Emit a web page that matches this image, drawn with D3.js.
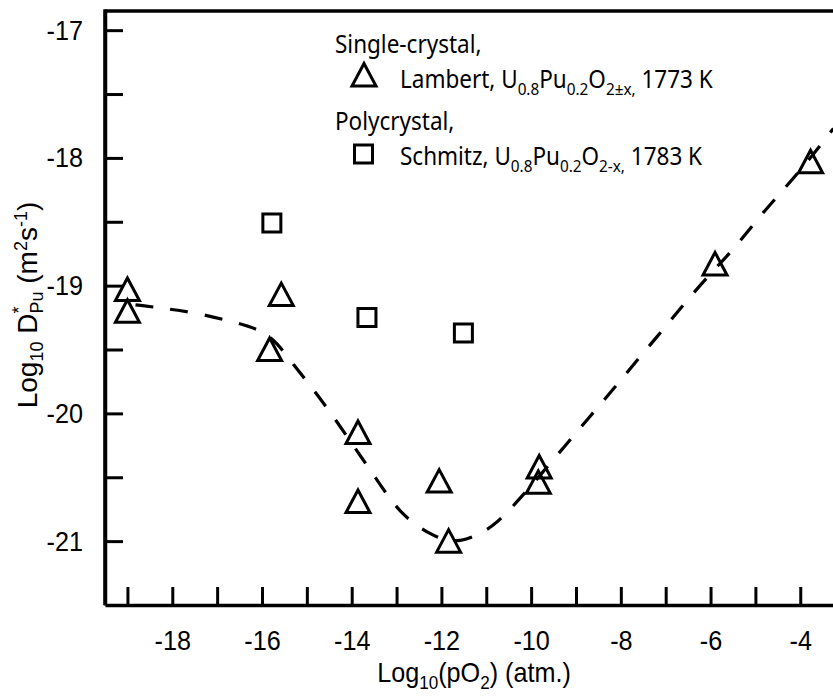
<!DOCTYPE html>
<html>
<head>
<meta charset="utf-8">
<script src="https://cdn.jsdelivr.net/npm/d3@7"></script>
<style>
  html, body { margin: 0; padding: 0; background: #fff; }
  svg { display: block; }
  .num { font-family: "Liberation Sans", Arial, sans-serif; font-size: 28px; fill: #000; }
  .leg { font-family: "Noto Sans", "Open Sans", sans-serif; font-size: 25px; fill: #000; }
  .sx { transform-box: fill-box; transform: scaleX(0.9); }
</style>
</head>
<body>
<svg id="chart" width="833" height="696"></svg>
<script>
// Lambert, single crystal U0.8Pu0.2O2±x at 1773 K
const lambertLogPO2 = [-19.0, -19.0, -15.57, -15.83, -13.86, -13.86, -12.05, -11.84, -9.82, -9.84, -5.90, -3.77];
const lambertLogD   = [-19.03, -19.20, -19.07, -19.50, -20.15, -20.69, -20.53, -21.00, -20.42, -20.54, -18.83, -18.03];

// Schmitz, polycrystal U0.8Pu0.2O2-x at 1783 K
const schmitzLogPO2 = [-15.78, -13.66, -11.51];
const schmitzLogD   = [-18.51, -19.25, -19.37];

// dashed trend line through the single-crystal data
const trendLogPO2 = [-18.82, -18.13, -17.35, -16.57, -15.99, -15.66, -15.34, -14.79, -14.32, -13.85, -13.38, -12.89, -12.20, -11.84, -11.49, -10.86, -10.28, -9.79, -9.21, -8.68, -8.14, -7.63, -7.07, -6.54, -5.91, -5.47, -4.91, -4.38, -3.86, -3.26];
const trendLogD   = [-19.15, -19.18, -19.22, -19.29, -19.35, -19.45, -19.60, -19.84, -20.07, -20.31, -20.55, -20.80, -20.96, -21.00, -21.00, -20.90, -20.68, -20.48, -20.24, -20.02, -19.80, -19.58, -19.35, -19.12, -18.87, -18.71, -18.46, -18.25, -18.04, -17.77];

// axis ticks
const xTicks = [-19, -18, -17, -16, -15, -14, -13, -12, -11, -10, -9, -8, -7, -6, -5, -4];
const xTickLabels = [-18, -16, -14, -12, -10, -8, -6, -4];
const yTicks = [-17, -17.5, -18, -18.5, -19, -19.5, -20, -20.5, -21];
const yTickLabels = [-17, -18, -19, -20, -21];

const svg = d3.select("#chart");
const plotLeft = 105, plotRight = 833, plotTop = 11, plotBottom = 605;

const x = d3.scaleLinear().domain([-19.5, -3.27]).range([plotLeft, plotRight]);
const y = d3.scaleLinear().domain([-21.5, -16.85]).range([plotBottom, plotTop]);

// frame: top edge
svg.append("line")
  .attr("x1", plotLeft).attr("x2", plotRight).attr("y1", plotTop).attr("y2", plotTop)
  .attr("stroke", "#000").attr("stroke-width", 3.5);

// bottom axis, ticks pointing into the plot
const xAxis = svg.append("g")
  .attr("transform", `translate(0,${plotBottom})`)
  .call(d3.axisBottom(x).tickValues(xTicks).tickSize(-18).tickSizeOuter(0).tickPadding(25)
    .tickFormat(d => xTickLabels.includes(d) ? String(d) : ""));

// left axis, ticks pointing into the plot
const yAxis = svg.append("g")
  .attr("transform", `translate(${plotLeft},0)`)
  .call(d3.axisLeft(y).tickValues(yTicks).tickSize(-18).tickSizeOuter(0).tickPadding(22)
    .tickFormat(d => yTickLabels.includes(d) ? String(d) : ""));

[xAxis, yAxis].forEach(g => {
  g.attr("font-size", null).attr("font-family", null);
  g.select(".domain").attr("stroke", "#000").attr("stroke-width", 3.5);
  g.selectAll(".tick line").attr("stroke", "#000").attr("stroke-width", 3);
  g.selectAll(".tick text").attr("class", "num sx");
});
xAxis.selectAll(".tick text").style("transform-origin", "center");
yAxis.selectAll(".tick text").style("transform-origin", "right center");

// extend the left axis line up to the top edge
svg.append("line")
  .attr("x1", plotLeft).attr("x2", plotLeft).attr("y1", plotTop - 1.75).attr("y2", plotBottom)
  .attr("stroke", "#000").attr("stroke-width", 3.5);

// dashed trend line
const line = d3.line().x(d => x(d[0])).y(d => y(d[1])).curve(d3.curveBasis);
svg.append("path")
  .datum(d3.zip(trendLogPO2, trendLogD))
  .attr("d", line)
  .attr("fill", "none").attr("stroke", "#000").attr("stroke-width", 3.2)
  .attr("stroke-dasharray", "18,17");

// marker shapes
const triPath = "M0,-11.5L12,11L-12,11Z";
const sqPath = "M-9,-9H9V9H-9Z";

svg.append("g").selectAll("path")
  .data(d3.zip(lambertLogPO2, lambertLogD))
  .join("path")
  .attr("d", triPath)
  .attr("transform", d => `translate(${x(d[0])},${y(d[1])})`)
  .attr("fill", "none").attr("stroke", "#000").attr("stroke-width", 3);

svg.append("g").selectAll("path")
  .data(d3.zip(schmitzLogPO2, schmitzLogD))
  .join("path")
  .attr("d", sqPath)
  .attr("transform", d => `translate(${x(d[0])},${y(d[1])})`)
  .attr("fill", "none").attr("stroke", "#000").attr("stroke-width", 3);

// legend
const leg = svg.append("g");
function legText(xp, yp, parts) {
  const t = leg.append("text").attr("class", "leg sx").attr("x", xp).attr("y", yp)
    .style("transform-origin", "left center");
  let shift = 0;
  parts.forEach(p => {
    const s = t.append("tspan").text(p.t);
    const want = p.sub ? 7 : 0;
    if (want !== shift) { s.attr("dy", want - shift); shift = want; }
    if (p.sub) s.attr("font-size", 17);
  });
  return t;
}
legText(335, 53, [{t: "Single-crystal,"}]);
leg.append("path").attr("d", triPath).attr("transform", "translate(364,75)")
  .attr("fill", "none").attr("stroke", "#000").attr("stroke-width", 3);
legText(400, 88, [{t: "Lambert, U"}, {t: "0.8", sub: true}, {t: "Pu"}, {t: "0.2", sub: true},
  {t: "O"}, {t: "2±x,", sub: true}, {t: " 1773 K"}]);
legText(335, 130, [{t: "Polycrystal,"}]);
leg.append("path").attr("d", sqPath).attr("transform", "translate(363.5,154)")
  .attr("fill", "none").attr("stroke", "#000").attr("stroke-width", 3);
legText(400, 165, [{t: "Schmitz, U"}, {t: "0.8", sub: true}, {t: "Pu"}, {t: "0.2", sub: true},
  {t: "O"}, {t: "2-x,", sub: true}, {t: " 1783 K"}]);

// x axis title
const xt = svg.append("text").attr("class", "num sx").attr("x", 474).attr("y", 682)
  .attr("text-anchor", "middle").style("transform-origin", "center");
xt.append("tspan").text("Log");
xt.append("tspan").attr("font-size", 19).attr("dy", 7).text("10");
xt.append("tspan").attr("dy", -7).text("(pO");
xt.append("tspan").attr("font-size", 19).attr("dy", 7).text("2");
xt.append("tspan").attr("dy", -7).text(") (atm.)");

// y axis title
const yt = svg.append("text").attr("class", "num").attr("font-size", 27)
  .attr("transform", "translate(37,305) rotate(-90)").attr("text-anchor", "middle");
yt.append("tspan").text("Log");
yt.append("tspan").attr("font-size", 18).attr("dy", 6).text("10");
yt.append("tspan").attr("dy", -6).text(" D");
yt.append("tspan").attr("font-size", 18).attr("dy", -12).text("*");
yt.append("tspan").attr("font-size", 18).attr("dx", -7).attr("dy", 18).text("Pu");
yt.append("tspan").attr("dy", -6).text(" (m");
yt.append("tspan").attr("font-size", 18).attr("dy", -10).text("2");
yt.append("tspan").attr("dy", 10).text("s");
yt.append("tspan").attr("font-size", 18).attr("dy", -10).text("-1");
yt.append("tspan").attr("dy", 10).text(")");
</script>
</body>
</html>
